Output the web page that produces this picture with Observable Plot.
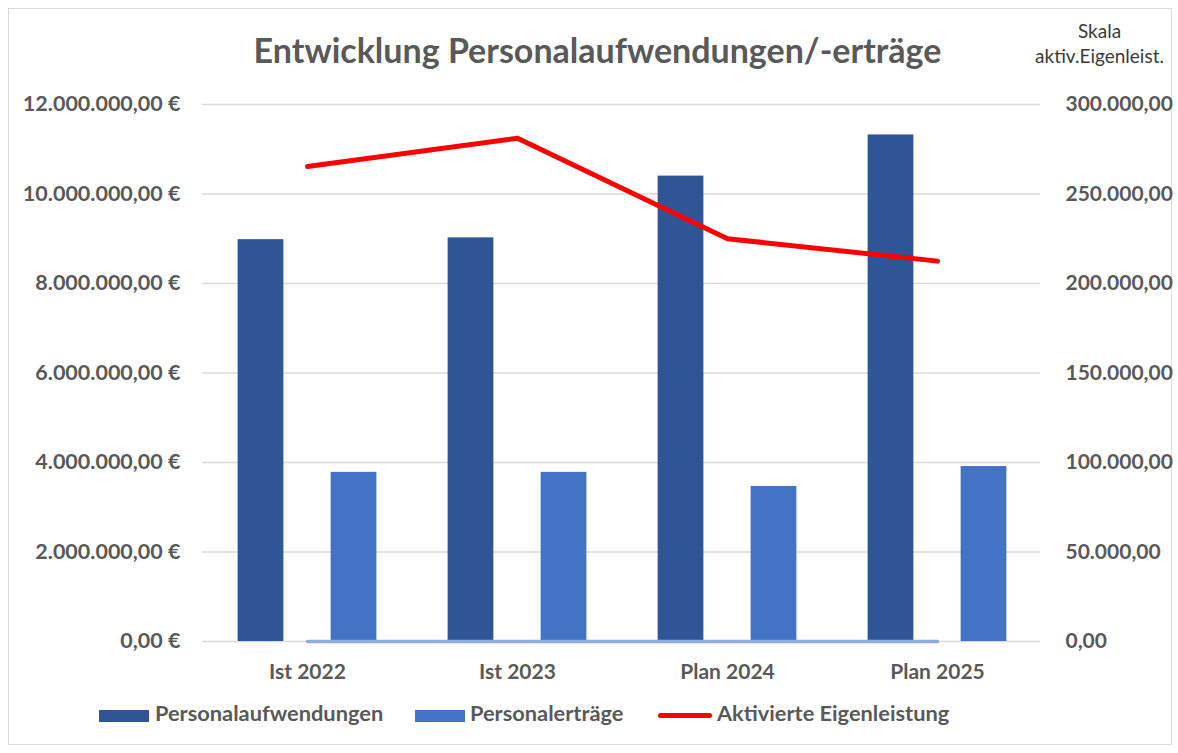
<!DOCTYPE html>
<html>
<head>
<meta charset="utf-8">
<script src="https://cdn.jsdelivr.net/npm/d3@7"></script>
<script src="https://cdn.jsdelivr.net/npm/@observablehq/plot@0.6"></script>
<style>
  html, body { margin: 0; padding: 0; background: #fff; }
  #wrap { position: relative; width: 1178px; height: 753px; overflow: hidden; font-family: Lato, "Open Sans", sans-serif; }
  #frame { position: absolute; left: 8px; top: 8px; width: 1164px; height: 737px; border: 1.5px solid #d9d9d9; box-sizing: border-box; }
  #chart { position: absolute; left: 0; top: 0; }
  #title { position: absolute; top: 33.1px; left: 597.5px; transform: translateX(-50%); white-space: nowrap;
           font-size: 34px; line-height: 34px; font-weight: bold; color: #595959; }
  #skala { position: absolute; top: 18.2px; left: 1099.5px; transform: translateX(-50%); white-space: nowrap; text-align: center;
           font-size: 19px; line-height: 25px; color: #3a3a3a; }
  .lg { position: absolute; }
  .lgtext { position: absolute; top: 702.4px; font-size: 21.8px; line-height: 21.8px; color: #595959; font-weight: bold; white-space: nowrap; }
</style>
</head>
<body>
<div id="wrap">
  <div id="frame"></div>
  <div id="chart"></div>
  <div id="title"></div>
  <div id="skala"></div>
  <div id="legend"></div>
</div>
<script>
// ---- data ----
const categories = ["Ist 2022", "Ist 2023", "Plan 2024", "Plan 2025"];
const personalaufwendungen = [8980000, 9020000, 10400000, 11320000];
const personalertraege = [3780000, 3780000, 3465000, 3910000];
const aktivierteEigenleistung = [265400, 281200, 225000, 212500];
const nullreihe = [0, 0, 0, 0];
const leftTicks = [0, 2000000, 4000000, 6000000, 8000000, 10000000, 12000000];
const rightTicks = [0, 50000, 100000, 150000, 200000, 250000, 300000];
const seriesNames = ["Personalaufwendungen", "Personalerträge", "Aktivierte Eigenleistung"];
const titleText = "Entwicklung Personalaufwendungen/-erträge";
const skalaLines = ["Skala", "aktiv.Eigenleist."];

const colors = { dark: "#2F5597", light: "#4472C4", red: "#FF0000", zero: "#8FAADC", grid: "#D9D9D9", text: "#595959" };

const ratio = leftTicks[leftTicks.length - 1] / rightTicks[rightTicks.length - 1]; // 40

const de = d3.formatLocale({ decimal: ",", thousands: ".", grouping: [3], currency: ["", " €"] });
const f2 = de.format(",.2f");

const rows = categories.map((c, i) => ({
  cat: c,
  aufw: personalaufwendungen[i],
  ertr: personalertraege[i],
  eigen: aktivierteEigenleistung[i],
  zero: nullreihe[i]
}));

const W = 1178, H = 753;
const mL = 201, mR = 136, mT = 104, mB = 112;
const band = (W - mL - mR) / categories.length;
const barW = 46;
const inset = (band - barW) / 2;
const off = 46.5;

const plot = Plot.plot({
  width: W,
  height: H,
  marginLeft: mL,
  marginRight: mR,
  marginTop: mT,
  marginBottom: mB,
  style: { fontFamily: "Lato, 'Open Sans', sans-serif", background: "transparent", overflow: "visible" },
  x: { domain: categories, padding: 0, label: null },
  y: { domain: [0, leftTicks[leftTicks.length - 1]], label: null },
  marks: [
    Plot.ruleY(leftTicks, { stroke: colors.grid, strokeWidth: 1.5, insetLeft: 1, insetRight: 2 }),
    Plot.barY(rows, { x: "cat", y: "aufw", fill: colors.dark, dx: -off, insetLeft: inset, insetRight: inset }),
    Plot.barY(rows, { x: "cat", y: "ertr", fill: colors.light, dx: off, insetLeft: inset, insetRight: inset }),
    Plot.line(rows, { x: "cat", y: d => d.zero * ratio, stroke: colors.zero, strokeWidth: 3.5 }),
    Plot.line(rows, { x: "cat", y: d => d.eigen * ratio, stroke: colors.red, strokeWidth: 5, strokeLinecap: "round", strokeLinejoin: "round" }),
    Plot.axisY({ anchor: "left", ticks: leftTicks, tickSize: 0, tickPadding: 21, label: null,
      tickFormat: d => f2(d) + " €", fontSize: 21.5, fontWeight: "bold", fill: colors.text }),
    Plot.axisY({ anchor: "right", ticks: leftTicks, tickSize: 0, tickPadding: 23, label: null,
      tickFormat: d => f2(d / ratio), fontSize: 21, fontWeight: "bold", fill: colors.text }),
    Plot.axisX({ anchor: "bottom", tickSize: 0, tickPadding: 23, label: null,
      fontSize: 21, fontWeight: "bold", fill: colors.text })
  ]
});
document.getElementById("chart").appendChild(plot);

document.getElementById("title").textContent = titleText;
document.getElementById("skala").innerHTML = skalaLines.map(s => `<div>${s}</div>`).join("");

// legend
const legend = document.getElementById("legend");
const items = [
  { name: seriesNames[0], kind: "box", color: colors.dark, sx: 99, tx: 155 },
  { name: seriesNames[1], kind: "box", color: colors.light, sx: 415, tx: 470 },
  { name: seriesNames[2], kind: "line", color: colors.red, sx: 658, tx: 717 }
];
for (const it of items) {
  const sw = document.createElement("div");
  sw.className = "lg";
  if (it.kind === "box") {
    Object.assign(sw.style, { left: it.sx + "px", top: "710px", width: "50px", height: "12px", background: it.color });
  } else {
    Object.assign(sw.style, { left: it.sx + "px", top: "712.5px", width: "54px", height: "5px", background: it.color, borderRadius: "3px" });
  }
  legend.appendChild(sw);
  const t = document.createElement("div");
  t.className = "lgtext";
  t.style.left = it.tx + "px";
  t.textContent = it.name;
  legend.appendChild(t);
}
</script>
</body>
</html>
